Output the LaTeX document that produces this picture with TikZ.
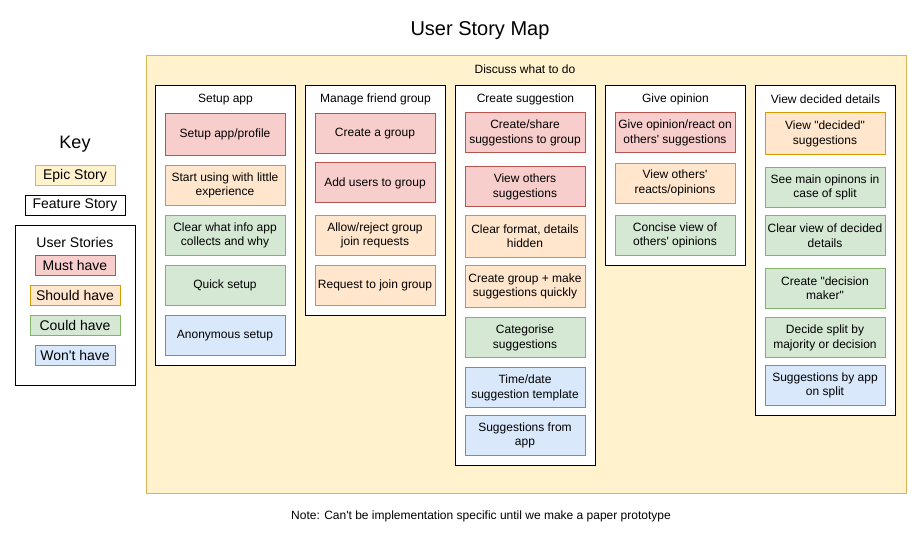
\documentclass[tikz,border=0pt]{standalone}
\usepackage{fontspec}
\setmainfont{Liberation Sans}[Ligatures=TeXOff]
\usepackage{tikz}
\usetikzlibrary{positioning}
\definecolor{epicfill}{HTML}{FFF2CC}
\definecolor{epicline}{HTML}{D6B656}
\definecolor{mustfill}{HTML}{F8CECC}
\definecolor{mustline}{HTML}{B85450}
\definecolor{shouldfill}{HTML}{FFE6CC}
\definecolor{shouldline}{HTML}{D79B00}
\definecolor{couldfill}{HTML}{D5E8D4}
\definecolor{couldline}{HTML}{82B366}
\definecolor{wontfill}{HTML}{DAE8FC}
\definecolor{wontline}{HTML}{6C8EBF}

\begin{document}
\begin{tikzpicture}[x=1pt,y=-1pt,font=\fontsize{12}{14.5}\selectfont,
  epic/.style={draw=epicline,fill=epicfill,line width=0.9pt},
  feature/.style={draw,fill=white,line width=0.9pt,minimum width=140pt,
                  anchor=north west},
  story/.style={line width=0.9pt,minimum width=120pt,minimum height=40pt,
                align=center,inner sep=1pt},
  must/.style={story,draw=mustline,fill=mustfill},
  should/.style={story,draw=shouldline,fill=shouldfill},
  could/.style={story,draw=couldline,fill=couldfill},
  wont/.style={story,draw=wontline,fill=wontfill},
  keybox/.style={line width=0.9pt,minimum height=20pt,inner sep=1pt,
                 font=\fontsize{14}{16}\selectfont}]
  \useasboundingbox (0,0) rectangle (921,541);
  \node (title) at (480,31) {\fontsize{20}{24}\selectfont User Story Map};

  % key on the left
  \node (key) at (75,144) {\fontsize{18}{20}\selectfont Key};
  \node[keybox,draw=epicline,fill=epicfill,minimum width=80pt] (kepic) at (75,175.5) {Epic Story};
  \node[keybox,draw,minimum width=100pt,below=9.1pt of kepic] (kfeat) {Feature Story};
  \node[keybox,draw,minimum width=120pt,minimum height=160pt,anchor=north west] (kuser) at (15,225) {};
  \node[keybox] (kuserT) at (75,242) {User Stories};
  \node[keybox,draw=mustline,fill=mustfill,minimum width=80pt] (kmust) at (75,265.5) {Must have};
  \node[keybox,draw=shouldline,fill=shouldfill,minimum width=90pt,below=9.1pt of kmust] (kshould) {Should have};
  \node[keybox,draw=couldline,fill=couldfill,minimum width=90pt,below=9.1pt of kshould] (kcould) {Could have};
  \node[keybox,draw=wontline,fill=wontfill,minimum width=80pt,below=9.1pt of kcould] (kwont) {Won't have};

  % epic
  \node[epic,anchor=north west,minimum width=760pt,minimum height=438pt] (discuss) at (146,55) {};
  \node (discussT) at (525,69.5) {Discuss what to do};

  % features
  \node[feature,minimum height=280pt] (setup) at (155,85) {};
  \node (setupT) at ([yshift=-14.5pt]setup.north) {Setup app};
  \node[feature,minimum height=230pt] (friends) at (305,85) {};
  \node (friendsT) at ([yshift=-14.5pt]friends.north) {Manage friend group};
  \node[feature,minimum height=380pt] (create) at (455,85) {};
  \node (createT) at ([yshift=-14.5pt]create.north) {Create suggestion};
  \node[feature,minimum height=180pt] (opinion) at (605,85) {};
  \node (opinionT) at ([yshift=-14.5pt]opinion.north) {Give opinion};
  \node[feature,minimum height=330pt] (decided) at (755,85) {};
  \node (decidedT) at ([yshift=-14.5pt]decided.north) {View decided details};

  % user stories: setup app
  \node[must,minimum height=42pt] (setup1) at (225,134.3) {Setup app/profile};
  \node[should] (setup2) at (225,185.3) {Start using with little\\experience};
  \node[could] (setup3) at (225,235.5) {Clear what info app\\collects and why};
  \node[could] (setup4) at (225,285.3) {Quick setup};
  \node[wont] (setup5) at (225,335.3) {Anonymous setup};

  % user stories: manage friend group
  \node[must] (friends1) at (375,133.2) {Create a group};
  \node[must] (friends2) at (375,182.9) {Add users to group};
  \node[should] (friends3) at (375,235.5) {Allow/reject group\\join requests};
  \node[should] (friends4) at (375,285.3) {Request to join group};

  % user stories: create suggestion
  \node[must] (create1) at (525,132.9) {Create/share\\suggestions to group};
  \node[must] (create2) at (525,186.7) {View others\\suggestions};
  \node[should,minimum height=42pt] (create3) at (525,236.3) {Clear format, details\\hidden};
  \node[should,minimum height=42pt] (create4) at (525,286.5) {Create group + make\\suggestions quickly};
  \node[could] (create5) at (525,337.9) {Categorise\\suggestions};
  \node[wont] (create6) at (525,387.9) {Time/date\\suggestion template};
  \node[wont] (create7) at (525,435.3) {Suggestions from\\app};

  % user stories: give opinion
  \node[must] (opinion1) at (675,132.9) {Give opinion/react on\\others' suggestions};
  \node[should] (opinion2) at (675,183) {View others'\\reacts/opinions};
  \node[could] (opinion3) at (675,235.3) {Concise view of\\others' opinions};

  % user stories: view decided details
  \node[should,minimum height=42pt] (decided1) at (825,133.9) {View "decided"\\suggestions};
  \node[could] (decided2) at (825,187.5) {See main opinons in\\case of split};
  \node[could] (decided3) at (825,235.5) {Clear view of decided\\details};
  \node[could] (decided4) at (825,288) {Create "decision\\maker"};
  \node[could] (decided5) at (825,337.9) {Decide split by\\majority or decision};
  \node[wont] (decided6) at (825,385.3) {Suggestions by app\\on split};

  \node (note) at (481,516) {Note: Can't be implementation specific until we make a paper prototype};
\end{tikzpicture}
\end{document}
